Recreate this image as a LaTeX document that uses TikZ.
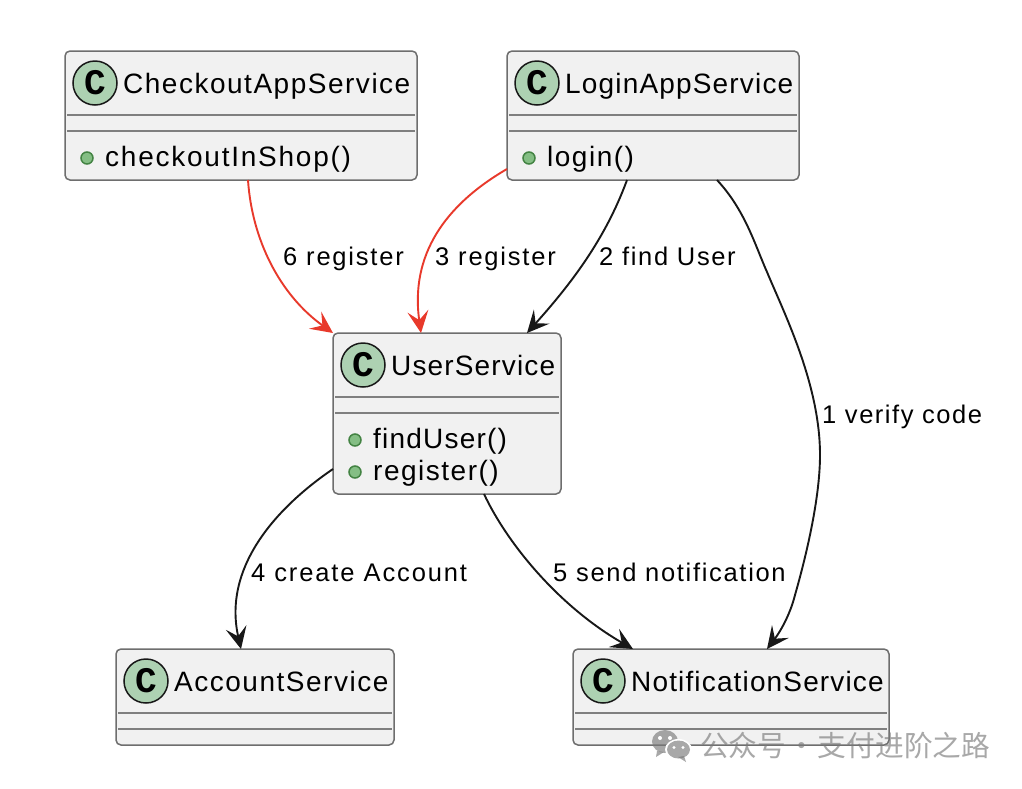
\documentclass[tikz,border=0pt]{standalone}
\usepackage{fontspec}
\setmainfont[LetterSpace=5.4]{Liberation Sans}
\newfontfamily\cjkfont{Noto Sans CJK SC}
\newfontfamily\badgefont{Liberation Mono}
\newcommand{\spaced}[2]{{\addfontfeature{LetterSpace=#1}#2}}
\usetikzlibrary{arrows.meta,calc,positioning}
\definecolor{boxfill}{HTML}{F1F1F1}
\definecolor{boxline}{HTML}{6E6E6E}
\definecolor{sepcol}{HTML}{7F7F7F}
\definecolor{circfill}{HTML}{ADD1B2}
\definecolor{ink}{HTML}{181818}
\definecolor{redline}{HTML}{E8392B}
\definecolor{pubfill}{HTML}{84BE84}
\definecolor{publine}{HTML}{438343}
\tikzset{
 classbox/.style={draw=boxline,fill=boxfill,line width=1.5pt,rounded corners=5pt,anchor=north west,inner sep=0pt,outer sep=0pt},
 sepline/.style={draw=sepcol,line width=2pt},
 badge/.style={circle,draw=ink,fill=circfill,line width=1.5pt,minimum size=44pt,inner sep=0pt,font=\badgefont\fontsize{36}{36}\selectfont\bfseries},
 title/.style={anchor=base west,inner sep=0pt,text=black,font=\fontsize{28}{28}\selectfont},
 member/.style={anchor=base west,inner sep=0pt,text=black,font=\fontsize{28}{28}\selectfont},
 pub/.style={circle,draw=publine,fill=pubfill,line width=1.5pt,minimum size=12pt,inner sep=0pt},
 lab/.style={anchor=base west,inner sep=0pt,text=black,font=\fontsize{25.5}{26}\selectfont},
 conn/.style={draw=ink,line width=1.9pt,-{Stealth[length=22pt,width=21pt,inset=9pt]}},
 connred/.style={draw=redline,line width=1.9pt,-{Stealth[length=22pt,width=21pt,inset=9pt]}},
 wmark/.style={fill=black!52,opacity=.65},
}
\begin{document}
\begin{tikzpicture}[x=1pt,y=-1pt]
\useasboundingbox (0,0) rectangle (1022,788);
\fill[white] (0,0) rectangle (1022,788);
% boxes
\node[classbox,minimum width=352pt,minimum height=129pt] (co) at (65,51) {};
\node[classbox,minimum width=292pt,minimum height=129pt] (lo) at (507,51) {};
\node[classbox,minimum width=228pt,minimum height=161pt] (us) at (333,333) {};
\node[classbox,minimum width=278pt,minimum height=96pt] (ac) at (116,649) {};
\node[classbox,minimum width=316pt,minimum height=96pt] (no) at (573,649) {};
% separators
\draw[sepline] (67,115) -- (415,115) (67,131) -- (415,131);
\draw[sepline] (509,115) -- (797,115) (509,131) -- (797,131);
\draw[sepline] (335,397) -- (559,397) (335,413) -- (559,413);
\draw[sepline] (118,713) -- (392,713) (118,729) -- (392,729);
\draw[sepline] (575,713) -- (887,713) (575,729) -- (887,729);
% badges
\node[badge] (b1) at (95,83) {C};
\node[badge] (b2) at (537,83) {C};
\node[badge] (b3) at (363,365) {C};
\node[badge] (b4) at (146,681) {C};
\node[badge] (b5) at (603,681) {C};
% titles
\node[title] (t1) at (123,93) {CheckoutAppService};
\node[title] (t2) at (565,93) {\spaced{4.2}{LoginAppService}};
\node[title] (t3) at (391,375) {\spaced{4.1}{UserService}};
\node[title] (t4) at (174,691) {AccountService};
\node[title] (t5) at (631,691) {\spaced{4.1}{NotificationService}};
% members
\node[pub] (p1) at (87,158) {};
\node[member] (m1) at (105,166) {\spaced{6.3}{checkoutInShop()}};
\node[pub] (p2) at (529,158) {};
\node[member] (m2) at (547,166) {login()};
\node[pub] (p3) at (355,440) {};
\node[member] (m3) at (373,448) {\spaced{4.3}{findUser()}};
\node[pub] (p4) at (355,472) {};
\node[member] (m4) at (373,480) {register()};
% connectors
\draw[connred] ([xshift=183pt]co.south west) .. controls (252,240) and (280,295) .. (us.north west);
\draw[connred] ([yshift=-118pt]lo.north west) .. controls (445,205) and (410,255) .. ([xshift=88pt]us.north west);
\draw[conn] ([xshift=120pt]lo.south west) .. controls (605,240) and (570,285) .. ([xshift=194pt]us.north west);
\draw[conn] ([xshift=210pt]lo.south west) .. controls (745,210) and (755,245) .. (767,272) .. controls (785,315) and (820,385) .. (820,455) .. controls (820,500) and (805,560) .. (795,595) .. controls (790,615) and (780,632) .. ([xshift=194pt]no.north west);
\draw[conn] ([yshift=-136pt]us.north west) .. controls (280,505) and (222,565) .. ([xshift=125pt]ac.north west);
\draw[conn] ([xshift=151pt]us.south west) .. controls (508,545) and (560,607) .. ([xshift=60pt]no.north west);
% labels
\node[lab] (l6) at (283,265) {\spaced{7}{6 register}};
\node[lab] (l3) at (435,265) {\spaced{7}{3 register}};
\node[lab] (l2) at (599,265) {\spaced{6.5}{2 find User}};
\node[lab] (l1) at (822,423) {\spaced{6}{1 verify code}};
\node[lab] (l4) at (251,581) {\spaced{7.4}{4 create Account}};
\node[lab] (l5) at (553,581) {\spaced{6.6}{5 send notification}};
% watermark
\fill[wmark] (665,741.5) ellipse (13pt and 11.5pt);
\fill[wmark] (657,751) -- (656,757) -- (664,752) -- cycle;
\fill[white] (678.5,749.5) ellipse (13.5pt and 10.5pt);
\fill[wmark] (678.5,749.5) ellipse (11.5pt and 9pt);
\fill[wmark] (684,756) -- (686,762) -- (678,757) -- cycle;
\fill[white] (660,738) circle (2pt) (670,738) circle (2pt) (674,747.5) circle (1.6pt) (683,747.5) circle (1.6pt);
\node[anchor=base west,inner sep=0pt,text=black!52,text opacity=.65,font=\cjkfont\fontsize{28.7}{29}\selectfont] (wm) at (700,756) {公众号\hspace{1.5pt}·\hspace{1.5pt}支付进阶之路};
\end{tikzpicture}
\end{document}
